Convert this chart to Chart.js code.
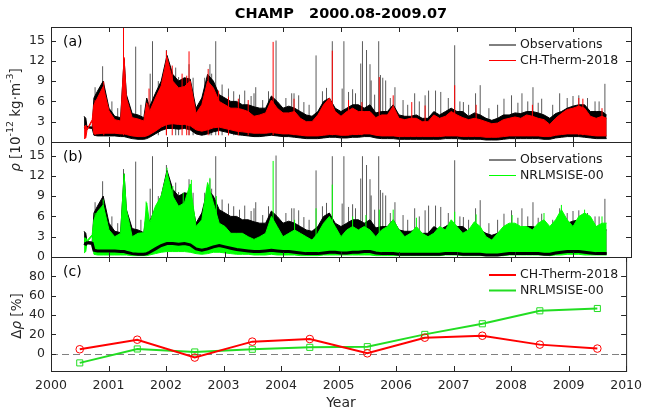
<!DOCTYPE html>
<html>
<head>
<meta charset="utf-8">
<script src="https://cdn.jsdelivr.net/npm/chart.js@4.4.0/dist/chart.umd.min.js"></script>
<style>
  html, body { margin: 0; padding: 0; background: #fff; }
  #wrap { position: relative; width: 649px; height: 411px; }
  #wrap canvas { position: absolute; left: 0; top: 0; }
</style>
</head>
<body>
<div id="wrap">
  <canvas id="cA" width="649" height="411"></canvas>
  <canvas id="cB" width="649" height="411"></canvas>
  <canvas id="cC" width="649" height="411"></canvas>
</div>
<script>
// ---- data ----
var xTicks = [2000, 2001, 2002, 2003, 2004, 2005, 2006, 2007, 2008, 2009, 2010];
var rhoTicks = [0, 3, 6, 9, 12, 15];
var devTicks = [0, 20, 40, 60, 80];

// sample times for panels (a) and (b), decimal year
var years = [2000.57, 2000.6, 2000.62, 2000.71, 2000.74, 2000.8, 2000.9,
  2001.0, 2001.1, 2001.2, 2001.26, 2001.3, 2001.4, 2001.5, 2001.6, 2001.65, 2001.7, 2001.8, 2001.9,
  2002.0, 2002.1, 2002.2, 2002.3, 2002.4, 2002.5, 2002.6, 2002.7, 2002.8, 2002.9,
  2003.0, 2003.1, 2003.2, 2003.3, 2003.4, 2003.5, 2003.6, 2003.7, 2003.8, 2003.9,
  2004.0, 2004.1, 2004.2, 2004.3, 2004.4, 2004.5, 2004.6, 2004.7, 2004.8, 2004.9,
  2005.0, 2005.1, 2005.2, 2005.3, 2005.4, 2005.5, 2005.6, 2005.7, 2005.8, 2005.9,
  2006.0, 2006.1, 2006.2, 2006.3, 2006.4, 2006.5, 2006.6, 2006.7, 2006.8, 2006.9,
  2007.0, 2007.1, 2007.2, 2007.3, 2007.4, 2007.5, 2007.6, 2007.7, 2007.8, 2007.9,
  2008.0, 2008.1, 2008.2, 2008.3, 2008.4, 2008.5, 2008.6, 2008.7, 2008.8, 2008.9,
  2009.0, 2009.1, 2009.2, 2009.3, 2009.4, 2009.5, 2009.58];

// observations: upper / lower envelope (1e-12 kg/m3)
var obsHi = [3.8, 3.5, 2.3, 2.2, 6.5, 7.5, 9.0,
  5.0, 3.8, 3.6, 12.3, 7.0, 4.2, 4.0, 3.6, 6.5, 5.2, 7.2, 9.0,
  12.8, 10.0, 9.0, 9.5, 9.3, 5.0, 6.5, 10.0, 9.0, 7.0,
  6.5, 6.0, 6.0, 5.5, 5.5, 5.2, 5.0, 5.0, 6.8, 6.0,
  5.0, 5.3, 5.0, 4.5, 4.0, 3.8, 4.5, 6.0, 6.5, 5.0,
  4.5, 5.0, 5.5, 5.5, 5.0, 5.5, 4.3, 4.5, 4.5, 5.5,
  4.0, 3.8, 3.8, 4.0, 3.5, 3.5, 4.5, 4.0, 4.5, 5.0,
  4.5, 4.5, 3.8, 4.3, 4.0, 3.5, 3.2, 3.5, 4.0, 4.0,
  4.3, 4.2, 4.5, 4.5, 4.3, 4.0, 3.5, 4.2, 4.5, 5.0,
  5.3, 5.5, 5.5, 4.5, 4.5, 4.5, 4.0];
var obsLo = [2.0, 1.9, 2.1, 2.0, 1.0, 0.9, 0.9,
  0.9, 0.9, 0.8, 0.8, 0.7, 0.5, 0.4, 0.4, 0.5, 0.7, 1.2, 1.7,
  2.0, 2.0, 1.9, 2.0, 1.8, 1.2, 1.0, 1.2, 1.5, 1.7,
  1.5, 1.3, 1.1, 1.0, 0.9, 0.8, 0.8, 0.9, 1.0, 0.9,
  0.8, 0.8, 0.7, 0.6, 0.5, 0.5, 0.5, 0.6, 0.7, 0.7,
  0.6, 0.6, 0.7, 0.7, 0.8, 0.8, 0.6, 0.5, 0.5, 0.5,
  0.4, 0.4, 0.4, 0.4, 0.4, 0.4, 0.4, 0.4, 0.5, 0.5,
  0.5, 0.4, 0.4, 0.4, 0.4, 0.3, 0.3, 0.3, 0.4, 0.5,
  0.5, 0.5, 0.5, 0.5, 0.5, 0.4, 0.4, 0.6, 0.7, 0.8,
  0.8, 0.8, 0.7, 0.6, 0.5, 0.5, 0.5];

// CH-Therm-2018
var chHi = [2.2, 2.5, 1.9, 3.3, 5.5, 6.5, 8.2,
  4.6, 3.3, 3.1, 12.5, 6.5, 3.6, 3.4, 3.1, 5.8, 4.5, 6.5, 8.3,
  12.5, 9.0, 8.0, 8.2, 9.0, 4.2, 5.5, 9.0, 8.0, 6.0,
  5.5, 5.0, 5.0, 4.8, 4.5, 3.8, 4.0, 4.3, 6.2, 5.0,
  4.3, 4.3, 4.5, 3.5, 3.0, 3.0, 4.0, 5.5, 6.5, 4.5,
  3.8, 4.5, 5.0, 4.5, 4.5, 4.5, 3.6, 4.0, 4.0, 5.3,
  3.5, 3.3, 3.5, 3.5, 3.0, 3.0, 4.0, 3.5, 3.8, 4.5,
  4.0, 3.6, 3.3, 3.5, 3.3, 3.0, 2.7, 2.8, 3.3, 3.5,
  3.7, 3.5, 4.0, 3.8, 3.5, 3.3, 2.6, 3.5, 4.2, 4.8,
  5.0, 5.3, 5.0, 3.8, 3.5, 3.8, 3.5];
var chLo = [0.5, 0.6, 1.7, 3.1, 1.2, 1.2, 1.3,
  1.3, 1.3, 1.2, 1.2, 1.1, 0.9, 0.8, 0.8, 0.9, 1.1, 1.6, 2.2,
  2.6, 2.7, 2.6, 2.6, 2.4, 1.8, 1.6, 1.8, 2.1, 2.2,
  2.0, 1.8, 1.6, 1.5, 1.4, 1.3, 1.3, 1.3, 1.4, 1.3,
  1.2, 1.2, 1.1, 1.0, 0.9, 0.9, 0.9, 1.0, 1.1, 1.1,
  1.0, 1.0, 1.1, 1.1, 1.2, 1.2, 1.0, 0.9, 0.9, 0.9,
  0.8, 0.8, 0.8, 0.8, 0.8, 0.8, 0.8, 0.8, 0.9, 0.9,
  0.9, 0.8, 0.8, 0.8, 0.8, 0.7, 0.7, 0.7, 0.8, 0.9,
  0.9, 0.9, 0.9, 0.9, 0.9, 0.8, 0.8, 1.0, 1.1, 1.2,
  1.2, 1.2, 1.1, 1.0, 0.9, 0.9, 0.9];

// NRLMSISE-00
var msHi = [2.8, 2.8, 2.4, 3.3, 5.5, 6.7, 7.7,
  4.0, 3.0, 3.5, 12.3, 7.0, 3.0, 3.5, 3.6, 8.0, 5.0, 7.5, 9.0,
  12.5, 9.0, 7.5, 8.0, 10.8, 4.5, 5.5, 11.0, 8.0, 5.0,
  4.5, 3.5, 3.5, 3.5, 3.0, 2.6, 3.0, 3.5, 6.0, 4.5,
  3.0, 3.5, 4.0, 3.5, 3.0, 2.5, 3.5, 5.0, 6.0, 4.5,
  3.0, 4.0, 4.5, 4.0, 4.5, 4.0, 3.0, 4.0, 4.5, 5.5,
  4.0, 3.0, 3.5, 4.5, 3.5, 3.0, 3.5, 4.5, 4.0, 5.5,
  4.5, 3.5, 4.0, 5.2, 4.5, 3.0, 2.5, 3.5, 4.5, 5.0,
  5.0, 4.5, 4.5, 4.0, 5.0, 5.5, 4.5, 5.5, 7.0, 5.5,
  4.5, 6.0, 6.5, 6.0, 4.5, 5.0, 5.0];
var msLo = [0.6, 0.8, 2.2, 3.1, 0.4, 0.3, 0.3,
  0.3, 0.3, 0.3, 0.3, 0.3, 0.2, 0.2, 0.2, 0.2, 0.3, 0.5, 0.7,
  0.8, 0.8, 0.8, 0.8, 0.7, 0.5, 0.4, 0.5, 0.7, 0.7,
  0.6, 0.5, 0.4, 0.4, 0.4, 0.3, 0.3, 0.3, 0.4, 0.3,
  0.3, 0.3, 0.3, 0.2, 0.2, 0.2, 0.2, 0.3, 0.3, 0.3,
  0.3, 0.3, 0.3, 0.3, 0.3, 0.3, 0.2, 0.2, 0.2, 0.2,
  0.2, 0.2, 0.2, 0.2, 0.2, 0.2, 0.2, 0.2, 0.3, 0.3,
  0.3, 0.2, 0.2, 0.2, 0.2, 0.2, 0.2, 0.2, 0.2, 0.3,
  0.3, 0.3, 0.3, 0.3, 0.3, 0.3, 0.2, 0.3, 0.3, 0.4,
  0.4, 0.4, 0.3, 0.3, 0.3, 0.3, 0.3];

// storm spikes above the envelopes
var spikeBase = 1.0;
var obsSpikeYears = [2000.76, 2000.89, 2001.05, 2001.15, 2001.25, 2001.46, 2001.55, 2001.71, 2001.75, 2001.85,
  2001.99, 2002.15, 2002.2, 2002.38, 2002.45, 2002.65, 2002.74, 2002.77, 2002.84, 2002.95,
  2003.06, 2003.15, 2003.25, 2003.34, 2003.45, 2003.5, 2003.53, 2003.65, 2003.75, 2003.88,
  2004.05, 2004.15, 2004.19, 2004.27, 2004.36, 2004.45, 2004.57, 2004.68, 2004.75, 2004.85,
  2005.02, 2005.05, 2005.13, 2005.2, 2005.25, 2005.34, 2005.37, 2005.44, 2005.5, 2005.52,
  2005.58, 2005.65, 2005.68, 2005.72, 2005.77, 2005.85, 2005.93, 2006.07, 2006.15, 2006.27,
  2006.35, 2006.45, 2006.51, 2006.63, 2006.72, 2006.85, 2006.96, 2007.05, 2007.11, 2007.2,
  2007.32, 2007.4, 2007.55, 2007.7, 2007.81, 2007.94, 2008.05, 2008.12, 2008.22, 2008.31,
  2008.4, 2008.46, 2008.65, 2008.77, 2008.9, 2009.0, 2009.1, 2009.25, 2009.38, 2009.45, 2009.55];
var obsSpikeTops = [8.1, 11.2, 6.0, 5.0, 13.0, 14.1, 5.5, 10.1, 14.9, 9.0,
  13.6, 11.0, 9.6, 11.5, 9.5, 9.5, 11.5, 10.1, 14.9, 8.5,
  7.9, 7.5, 7.0, 7.6, 6.8, 7.2, 8.1, 6.2, 7.5, 15.0,
  6.5, 7.2, 7.2, 6.9, 5.9, 5.5, 12.8, 7.5, 8.0, 14.9,
  7.9, 14.9, 7.4, 7.8, 7.2, 11.6, 14.9, 13.6, 11.5, 9.1,
  7.0, 14.9, 9.9, 9.5, 9.1, 6.5, 8.1, 6.2, 5.5, 7.2,
  6.0, 6.9, 7.6, 7.6, 7.4, 6.5, 14.3, 6.0, 5.9, 5.5,
  7.2, 8.4, 5.0, 5.5, 6.4, 6.9, 5.8, 7.2, 6.0, 8.1,
  5.8, 6.4, 5.5, 7.2, 6.5, 6.8, 6.9, 6.5, 6.0, 6.0, 8.6];
var chSpikeYears = [2000.76, 2000.91, 2001.25, 2001.69, 2001.99, 2002.09, 2002.26, 2002.34, 2002.38, 2002.71,
  2002.89, 2003.06, 2003.23, 2003.4, 2003.83, 2004.19, 2004.85, 2005.13, 2005.36, 2005.66,
  2005.9, 2006.22, 2006.45, 2006.96, 2007.33, 2008.3, 2009.1, 2009.17, 2009.5];
var chSpikeTops = [6.2, 8.9, 17.5, 7.9, 13.5, 11.3, 10.1, 9.8, 13.4, 10.8,
  7.6, 6.7, 6.4, 6.2, 14.8, 6.4, 13.5, 6.2, 5.9, 9.6,
  6.9, 5.9, 5.4, 8.4, 5.5, 5.5, 6.5, 6.4, 5.0];
var msSpikeYears = [2000.76, 2000.9, 2001.64, 2002.0, 2002.1, 2002.28, 2002.42, 2002.74, 2002.85, 2003.83,
  2004.2, 2004.57, 2004.85, 2005.2, 2005.43, 2005.66, 2005.9, 2006.3, 2006.96, 2007.33,
  2007.95, 2008.5, 2008.8, 2009.2, 2009.5];
var msSpikeTops = [6.5, 8.5, 8.2, 13.2, 10.5, 9.5, 11.4, 11.7, 9.0, 14.2,
  5.5, 7.2, 10.7, 6.0, 6.2, 7.0, 7.0, 5.8, 6.7, 6.3,
  6.2, 6.5, 7.7, 7.0, 6.0];

// panel (c): relative density bias per year, %
var devYears = [2000.5, 2001.5, 2002.5, 2003.5, 2004.5, 2005.5, 2006.5, 2007.5, 2008.5, 2009.5];
var chDev = [4.5, 14.4, -4.1, 12.4, 15.1, 0.3, 16.5, 18.5, 9.3, 5.2];
var msDev = [-9.6, 4.8, 1.7, 4.5, 6.5, 7.2, 19.9, 30.9, 44.3, 46.7];
// ---- end data ----

Chart.defaults.font.family = "'DejaVu Sans', sans-serif";
Chart.defaults.color = '#262626';

var INK = '#262626';
var RED = '#ff0000';
var GREEN = '#00ff00';

function pts(xs, ys) {
  return xs.map(function (t, i) { return { x: t, y: ys[i] }; });
}
function spikes(xs, tops) {
  var d = [];
  xs.forEach(function (t, i) {
    d.push({ x: t, y: spikeBase }, { x: t, y: tops[i] }, { x: t, y: null });
  });
  return d;
}
function band(xs, lo, hi, color, ord) {
  return [
    { data: pts(xs, lo), borderColor: color, borderWidth: 1, pointRadius: 0, fill: false, order: ord },
    { data: pts(xs, hi), borderColor: color, backgroundColor: color, borderWidth: 1, pointRadius: 0, fill: '-1', order: ord }
  ];
}
function spikeSet(xs, tops, color, ord) {
  return { data: spikes(xs, tops), borderColor: color, borderWidth: 1, pointRadius: 0, fill: false, order: ord };
}

function options(top, bottom, yMin, yMax, yTicks, showX) {
  return {
    responsive: false,
    animation: false,
    events: [],
    layout: { padding: { top: top, bottom: 411 - bottom - (showX ? 40 : 0), left: 0, right: 18 } },
    plugins: { legend: { display: false }, tooltip: { enabled: false } },
    elements: { line: { tension: 0 } },
    scales: {
      x: {
        type: 'linear', min: 2000, max: 2010, display: showX, offset: false,
        grid: { display: false, drawTicks: false }, border: { display: false },
        ticks: { color: INK, font: { size: 12.5 }, padding: 7, maxRotation: 0, autoSkip: false,
          callback: function (v) { return String(v); } },
        afterBuildTicks: function (s) { s.ticks = xTicks.map(function (v) { return { value: v }; }); },
        afterFit: function (s) { s.height = showX ? 40 : 0; }
      },
      y: {
        type: 'linear', min: yMin, max: yMax,
        grid: { display: false, drawTicks: false }, border: { display: false },
        ticks: { color: INK, font: { size: 12.5 }, padding: 6, autoSkip: false },
        afterBuildTicks: function (s) { s.ticks = yTicks.map(function (v) { return { value: v }; }); },
        afterFit: function (s) { s.width = 51; }
      }
    }
  };
}

// frame, inward ticks, panel tag and legend
function decor(name, yTicks, tag, legend, extra) {
  return {
    id: 'decor' + name,
    afterDraw: function (chart) {
      var ctx = chart.ctx, a = chart.chartArea, xs = chart.scales.x, ys = chart.scales.y;
      ctx.save();
      if (extra) extra(chart);
      ctx.strokeStyle = INK;
      ctx.lineWidth = 1;
      ctx.beginPath();
      xTicks.forEach(function (v) {
        var px = Math.round(xs.getPixelForValue(v)) + 0.5;
        ctx.moveTo(px, a.top); ctx.lineTo(px, a.top + 5);
        ctx.moveTo(px, a.bottom); ctx.lineTo(px, a.bottom - 5);
      });
      yTicks.forEach(function (v) {
        var py = Math.round(ys.getPixelForValue(v)) + 0.5;
        ctx.moveTo(a.left, py); ctx.lineTo(a.left + 5, py);
        ctx.moveTo(a.right, py); ctx.lineTo(a.right - 5, py);
      });
      ctx.stroke();
      ctx.strokeRect(a.left + 0.5, a.top + 0.5, a.right - a.left, a.bottom - a.top);

      ctx.fillStyle = '#000';
      ctx.font = "14px 'DejaVu Sans'";
      ctx.textBaseline = 'middle';
      ctx.textAlign = 'left';
      ctx.fillText(tag, 63, a.top + 15);

      ctx.font = "12.5px 'DejaVu Sans'";
      legend.forEach(function (it, i) {
        var y = a.top + 18 + i * 15.5;
        ctx.strokeStyle = it.color;
        ctx.lineWidth = it.width;
        ctx.beginPath(); ctx.moveTo(489, y); ctx.lineTo(516, y); ctx.stroke();
        ctx.fillStyle = '#1a1a1a';
        ctx.fillText(it.text, 520, y);
      });
      ctx.restore();
    }
  };
}

function drawRotated(ctx, parts, cx, cy) {
  ctx.save();
  ctx.translate(cx, cy);
  ctx.rotate(-Math.PI / 2);
  ctx.textBaseline = 'middle';
  ctx.textAlign = 'left';
  ctx.fillStyle = INK;
  var total = 0;
  parts.forEach(function (p) { ctx.font = p[1]; total += ctx.measureText(p[0]).width; });
  var x = -total / 2;
  parts.forEach(function (p) { ctx.font = p[1]; ctx.fillText(p[0], x, p[2]); x += ctx.measureText(p[0]).width; });
  ctx.restore();
}

var F = "13.5px 'DejaVu Sans'", FS = "9.5px 'DejaVu Sans'";

// panel (a)
var dsA = [].concat(
  band(years, chLo, chHi, RED, 2),
  [spikeSet(chSpikeYears, chSpikeTops, RED, 1)],
  band(years, obsLo, obsHi, '#000', 4),
  [spikeSet(obsSpikeYears, obsSpikeTops, 'rgba(0,0,0,0.65)', 3)]
);
new Chart(document.getElementById('cA'), {
  type: 'line',
  data: { datasets: dsA },
  options: options(27, 142, 0, 17, rhoTicks, false),
  plugins: [decor('A', rhoTicks, '(a)', [
    { text: 'Observations', color: '#000', width: 1 },
    { text: 'CH-Therm-2018', color: RED, width: 1 }
  ], function (chart) {
    var ctx = chart.ctx;
    ctx.fillStyle = '#000';
    ctx.font = "bold 14.5px 'DejaVu Sans'";
    ctx.textAlign = 'center';
    ctx.textBaseline = 'middle';
    ctx.fillText('CHAMP   2000.08-2009.07', 341, 14);
    drawRotated(ctx, [['ρ', "italic " + F, 0], [' [10', F, 0], ['-12', FS, -5], [' kg·m', F, 0], ['-3', FS, -5], [']', F, 0]], 16, 120);
  })]
});

// panel (b)
var dsB = [].concat(
  [{ data: pts(years, obsLo), borderColor: '#000', borderWidth: 3, pointRadius: 0, fill: false, order: 0 }],
  band(years, msLo, msHi, GREEN, 2),
  [spikeSet(msSpikeYears, msSpikeTops, GREEN, 1)],
  band(years, obsLo, obsHi, '#000', 4),
  [spikeSet(obsSpikeYears, obsSpikeTops, 'rgba(0,0,0,0.65)', 3)]
);
new Chart(document.getElementById('cB'), {
  type: 'line',
  data: { datasets: dsB },
  options: options(142, 257, 0, 17, rhoTicks, false),
  plugins: [decor('B', rhoTicks, '(b)', [
    { text: 'Observations', color: '#000', width: 1 },
    { text: 'NRLMSISE-00', color: GREEN, width: 1 }
  ])]
});

// panel (c)
new Chart(document.getElementById('cC'), {
  type: 'line',
  data: {
    datasets: [
      { data: pts(devYears, chDev), borderColor: RED, borderWidth: 2, pointStyle: 'circle', pointRadius: 3.8,
        pointBorderColor: RED, pointBackgroundColor: 'rgba(0,0,0,0)', pointBorderWidth: 1, order: 1 },
      { data: pts(devYears, msDev), borderColor: '#22dd22', borderWidth: 2, pointStyle: 'rect', pointRadius: 4.3,
        pointBorderColor: '#22dd22', pointBackgroundColor: 'rgba(0,0,0,0)', pointBorderWidth: 1, order: 2 }
    ]
  },
  options: options(257, 371, -18, 100, devTicks, true),
  plugins: [{
    id: 'zero',
    beforeDatasetsDraw: function (chart) {
      var ctx = chart.ctx, a = chart.chartArea;
      var y = Math.round(chart.scales.y.getPixelForValue(0)) + 0.5;
      ctx.save();
      ctx.strokeStyle = '#808080';
      ctx.lineWidth = 1;
      ctx.setLineDash([7, 4]);
      ctx.beginPath(); ctx.moveTo(a.left, y); ctx.lineTo(a.right, y); ctx.stroke();
      ctx.restore();
    }
  }, decor('C', devTicks, '(c)', [
    { text: 'CH-Therm-2018', color: RED, width: 2 },
    { text: 'NRLMSISE-00', color: '#22dd22', width: 2 }
  ], function (chart) {
    var ctx = chart.ctx;
    ctx.fillStyle = INK;
    ctx.font = "14px 'DejaVu Sans'";
    ctx.textAlign = 'center';
    ctx.textBaseline = 'middle';
    ctx.fillText('Year', 341, 403);
    drawRotated(ctx, [['Δ', F, 0], ['ρ', "italic " + F, 0], [' [%]', F, 0]], 17, 316);
  })]
});
</script>
</body>
</html>
